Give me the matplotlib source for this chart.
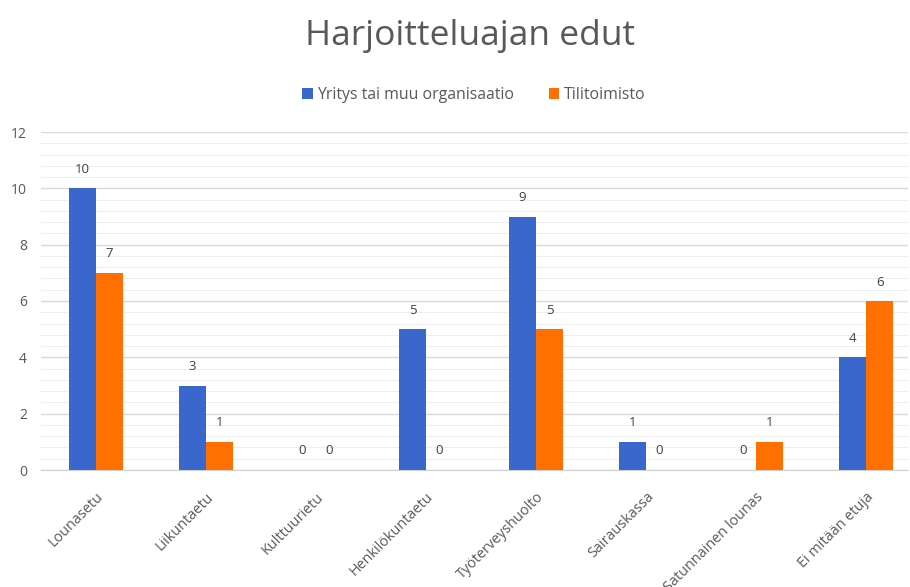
import matplotlib
matplotlib.use("Agg")
import matplotlib.pyplot as plt
import numpy as np
from matplotlib.ticker import MultipleLocator

categories = ["Lounasetu", "Liikuntaetu", "Kulttuurietu", "Henkilökuntaetu",
              "Työterveyshuolto", "Sairauskassa", "Satunnainen lounas", "Ei mitään etuja"]
series_names = ["Yritys tai muu organisaatio", "Tilitoimisto"]
yritys = [10, 3, 0, 5, 9, 1, 0, 4]
tilitoimisto = [7, 1, 0, 0, 5, 0, 1, 6]
colors = ["#3967CC", "#FF7000"]

plt.rcParams['font.family'] = ['Open Sans', 'DejaVu Sans']
text_color = "#595959"

fig = plt.figure(figsize=(9.10, 5.87), dpi=100)
W, H = 910, 587
left, right, bottom, top = 41, 908, 470, 132
ax = fig.add_axes([left / W, 1 - bottom / H, (right - left) / W, (bottom - top) / H])

x = np.arange(len(categories))
bw = 0.245
for vals, off, c, name in [(yritys, -bw / 2, colors[0], series_names[0]),
                           (tilitoimisto, bw / 2, colors[1], series_names[1])]:
    bars = ax.bar(x + off, vals, width=bw, color=c, label=name, zorder=3)
    for xi, v in zip(x + off, vals):
        ax.annotate(str(v), (xi, v), xytext=(0, 9), textcoords="offset points",
                    ha="center", va="bottom", fontsize=9.5, color="#404040")

ax.set_xlim(-0.5, 7.38)
ax.set_ylim(0, 12)
ax.yaxis.set_major_locator(MultipleLocator(2))
ax.yaxis.set_minor_locator(MultipleLocator(0.4))
ax.grid(axis="y", which="major", color="#D9D9D9", linewidth=1.0, zorder=0)
ax.grid(axis="y", which="minor", color="#EEEEEE", linewidth=0.8, zorder=0)
for s in ["top", "right", "left"]:
    ax.spines[s].set_visible(False)
ax.spines["bottom"].set_color("#D0D0D0")
ax.tick_params(axis="both", which="both", length=0, colors=text_color, labelsize=10)
ax.tick_params(axis="y", pad=10)
ax.set_xticks(x)
ax.set_xticklabels(categories, rotation=45, ha="right", rotation_mode="anchor",
                   fontsize=10.4)
ax.tick_params(axis="x", pad=14)

fig.text(470 / W, 1 - 36 / H, "Harjoitteluajan edut", ha="center", va="center",
         fontsize=25.5, color=text_color)
leg = fig.legend(loc="center", bbox_to_anchor=(474 / W, 1 - 95 / H), ncol=2, frameon=False,
                 fontsize=11.4, handlelength=0.65, handleheight=0.65, handletextpad=0.3,
                 columnspacing=2.2, labelcolor=text_color)

fig.savefig("out.png", dpi=100)
